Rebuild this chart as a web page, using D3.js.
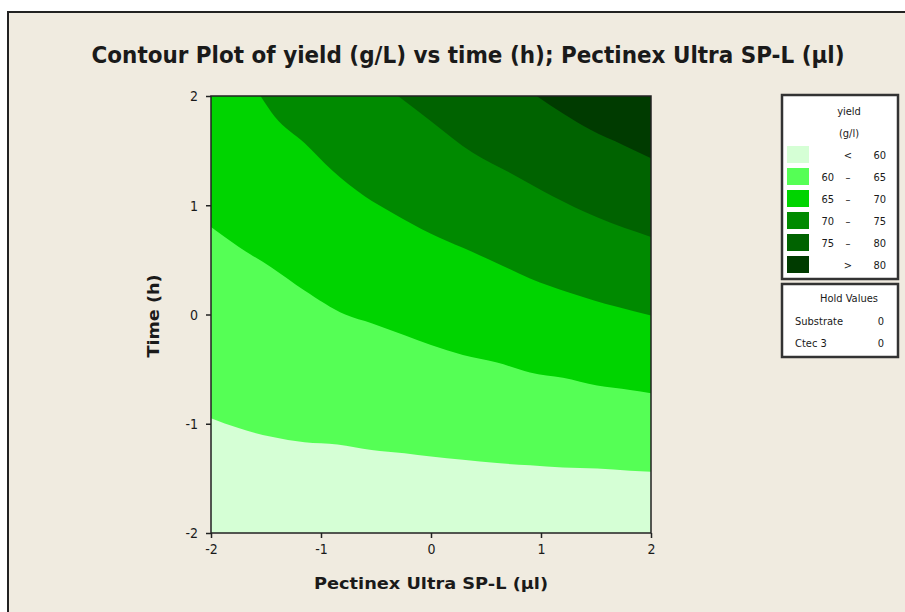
<!DOCTYPE html>
<html>
<head>
<meta charset="utf-8">
<script src="https://cdn.jsdelivr.net/npm/d3@7"></script>
<style>
  body { margin: 0; background: #ffffff; }
  svg text { font-family: "DejaVu Sans Condensed", "DejaVu Sans", sans-serif; fill: #1a1a1a; }
</style>
</head>
<body>
<div id="chart"></div>
<script>
// Data
const xTicks = [-2, -1, 0, 1, 2];
const yTicks = [-2, -1, 0, 1, 2];

// contour levels and their fill colours (lowest band first)
const levels = [60, 65, 70, 75, 80];
const bandColors = ['#d5ffd5', '#55ff55', '#00d400', '#008a00', '#006300', '#003b00'];
const bandLow = ['', '60', '65', '70', '75', ''];
const bandSep = ['<', '–', '–', '–', '–', '>'];
const bandHigh = ['60', '65', '70', '75', '80', '80'];

// contour boundaries, [pectinex, time]
const line60 = [[-2, -0.95], [-1.75, -1.04], [-1.45, -1.12], [-1.15, -1.17], [-0.85, -1.19], [-0.54, -1.24],
    [-0.24, -1.27], [0, -1.30], [0.29, -1.33], [0.6, -1.36], [0.9, -1.38], [1.2, -1.40], [1.51, -1.41], [1.81, -1.43], [2, -1.44]];
const line65 = [[-2, 0.80], [-1.75, 0.62], [-1.45, 0.43], [-1.15, 0.22], [-0.78, 0.0], [-0.54, -0.08], [-0.24, -0.19],
    [0, -0.28], [0.29, -0.37], [0.6, -0.44], [0.9, -0.53], [1.2, -0.58], [1.51, -0.65], [1.81, -0.69], [2, -0.72]];
const line70 = [[-1.55, 2.0], [-1.42, 1.81], [-1.15, 1.57], [-0.9, 1.32], [-0.6, 1.08], [-0.35, 0.93], [0, 0.74],
    [0.29, 0.61], [0.6, 0.47], [0.9, 0.33], [1.26, 0.20], [1.69, 0.07], [2, -0.01]];
const line75 = [[-0.30, 2.0], [0, 1.77], [0.38, 1.48], [0.75, 1.28], [1.11, 1.08], [1.51, 0.89], [2, 0.71]];
const line80 = [[0.96, 2.0], [1.2, 1.84], [1.45, 1.69], [1.75, 1.55], [2, 1.43]];
const boundaries = [line60, line65, line70, line75, line80];

const holdNames = ['Substrate', 'Ctec 3'];
const holdValues = [0, 0];

// Set dimensions
const width = 905;
const height = 612;
const plot = { left: 211, right: 651, top: 96, bottom: 533 };

const svg = d3.select('#chart')
    .append('svg')
    .attr('width', width)
    .attr('height', height);

// page background + frame
svg.append('rect')
    .attr('x', 8).attr('y', 12)
    .attr('width', 940).attr('height', 640)
    .attr('fill', '#f0ebe0')
    .attr('stroke', '#222')
    .attr('stroke-width', 2);

const x = d3.scaleLinear().domain([-2, 2]).range([plot.left, plot.right]);
const y = d3.scaleLinear().domain([-2, 2]).range([plot.bottom, plot.top]);

svg.append('clipPath').attr('id', 'clip')
    .append('rect')
    .attr('x', plot.left).attr('y', plot.top)
    .attr('width', plot.right - plot.left)
    .attr('height', plot.bottom - plot.top);

const g = svg.append('g').attr('clip-path', 'url(#clip)');

// lowest band fills the whole plot
g.append('rect')
    .attr('x', plot.left).attr('y', plot.top)
    .attr('width', plot.right - plot.left)
    .attr('height', plot.bottom - plot.top)
    .attr('fill', bandColors[0]);

// each band covers everything above its lower boundary
const area = d3.area()
    .x(d => x(d[0]))
    .y0(d => y(d[1]))
    .y1(y(2))
    .curve(d3.curveMonotoneX);

g.selectAll('path.band')
    .data(boundaries)
    .enter()
    .append('path')
    .attr('class', 'band')
    .attr('d', area)
    .attr('fill', (d, i) => bandColors[i + 1]);

// plot frame
svg.append('rect')
    .attr('x', plot.left).attr('y', plot.top)
    .attr('width', plot.right - plot.left)
    .attr('height', plot.bottom - plot.top)
    .attr('fill', 'none')
    .attr('stroke', '#222')
    .attr('stroke-width', 1.5);

// Axes
const xAxis = svg.append('g')
    .attr('transform', `translate(0,${plot.bottom})`)
    .call(d3.axisBottom(x).tickValues(xTicks).tickSize(5).tickPadding(6).tickFormat(d => String(d)));
const yAxis = svg.append('g')
    .attr('transform', `translate(${plot.left},0)`)
    .call(d3.axisLeft(y).tickValues(yTicks).tickSize(5).tickPadding(8).tickFormat(d => String(d)));

[xAxis, yAxis].forEach(a => {
    a.select('.domain').remove();
    a.selectAll('line').attr('stroke', '#222').attr('stroke-width', 1.5);
    a.selectAll('text').style('font-size', '14px').attr('fill', '#1a1a1a');
});
yAxis.selectAll('text').attr('dy', '0.35em');

// Titles
svg.append('text')
    .attr('x', 468).attr('y', 63)
    .attr('text-anchor', 'middle')
    .attr('textLength', 753)
    .attr('lengthAdjust', 'spacingAndGlyphs')
    .style('font-size', '23px')
    .style('font-weight', 'bold')
    .text('Contour Plot of yield (g/L) vs time (h); Pectinex Ultra SP-L (µl)');

svg.append('text')
    .attr('x', 431).attr('y', 589)
    .attr('text-anchor', 'middle')
    .attr('textLength', 234)
    .attr('lengthAdjust', 'spacingAndGlyphs')
    .style('font-size', '15px')
    .style('font-weight', 'bold')
    .text('Pectinex Ultra SP-L (µl)');

svg.append('text')
    .attr('transform', 'translate(159,316) rotate(-90)')
    .attr('text-anchor', 'middle')
    .attr('textLength', 83)
    .attr('lengthAdjust', 'spacingAndGlyphs')
    .style('font-size', '15px')
    .style('font-weight', 'bold')
    .text('Time (h)');

// Legend
const leg = svg.append('g');
leg.append('rect')
    .attr('x', 782).attr('y', 95).attr('width', 116).attr('height', 184)
    .attr('fill', '#fff').attr('stroke', '#333').attr('stroke-width', 2.5);
leg.append('text').attr('x', 849).attr('y', 115).attr('text-anchor', 'middle')
    .style('font-size', '11px').text('yield');
leg.append('text').attr('x', 849).attr('y', 137).attr('text-anchor', 'middle')
    .style('font-size', '11px').text('(g/l)');

const rows = leg.selectAll('g.row')
    .data(bandColors)
    .enter()
    .append('g')
    .attr('class', 'row')
    .attr('transform', (d, i) => `translate(0,${146 + i * 22})`);
rows.append('rect')
    .attr('x', 787).attr('width', 22).attr('height', 17)
    .attr('fill', d => d);
rows.append('text').attr('x', 834).attr('y', 13).attr('text-anchor', 'end')
    .style('font-size', '11px').text((d, i) => bandLow[i]);
rows.append('text').attr('x', 848).attr('y', 13).attr('text-anchor', 'middle')
    .style('font-size', '11px').text((d, i) => bandSep[i]);
rows.append('text').attr('x', 886).attr('y', 13).attr('text-anchor', 'end')
    .style('font-size', '11px').text((d, i) => bandHigh[i]);

// Hold values box
leg.append('rect')
    .attr('x', 782).attr('y', 284).attr('width', 116).attr('height', 73)
    .attr('fill', '#fff').attr('stroke', '#333').attr('stroke-width', 2.5);
leg.append('text').attr('x', 849).attr('y', 302).attr('text-anchor', 'middle')
    .style('font-size', '11px').text('Hold Values');
holdNames.forEach((n, i) => {
    leg.append('text').attr('x', 795).attr('y', 325 + i * 22)
        .style('font-size', '11px').text(n);
    leg.append('text').attr('x', 884).attr('y', 325 + i * 22).attr('text-anchor', 'end')
        .style('font-size', '11px').text(holdValues[i]);
});
</script>
</body>
</html>
